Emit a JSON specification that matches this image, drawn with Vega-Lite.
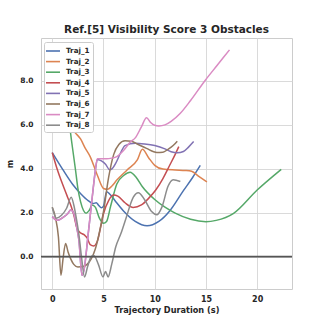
{
  "$schema": "https://vega.github.io/schema/vega-lite/v6.json",
  "width": 251,
  "height": 251,
  "autosize": "none",
  "padding": {"left": 41, "top": 38, "right": 33, "bottom": 36},
  "background": "white",
  "title": {"text": "Ref.[5] Visibility Score 3 Obstacles", "font": "DejaVu Sans", "fontSize": 10.5, "fontWeight": "bold", "color": "#262626", "offset": 3, "anchor": "middle"},
  "config": {
    "view": {"stroke": "#cccccc", "strokeWidth": 1},
    "axis": {"labelFont": "DejaVu Sans", "labelFontWeight": "bold", "labelColor": "#262626", "titleFont": "DejaVu Sans", "titleFontWeight": "bold", "titleColor": "#262626", "gridColor": "#d6d6d6", "gridWidth": 0.9, "ticks": false, "domain": false}
  },
  "layer": [
    {
      "data": {"values": [
        {"traj":"Traj_1","t":0,"m":4.73},{"traj":"Traj_1","t":1,"m":3.98},{"traj":"Traj_1","t":2,"m":3.28},{"traj":"Traj_1","t":2.8,"m":2.85},{"traj":"Traj_1","t":3.5,"m":2.55},{"traj":"Traj_1","t":4.0,"m":2.42},{"traj":"Traj_1","t":4.3,"m":2.45},{"traj":"Traj_1","t":4.5,"m":2.35},{"traj":"Traj_1","t":4.8,"m":2.22},{"traj":"Traj_1","t":5.0,"m":2.3},{"traj":"Traj_1","t":5.3,"m":2.95},{"traj":"Traj_1","t":5.6,"m":2.85},{"traj":"Traj_1","t":6.2,"m":2.5},{"traj":"Traj_1","t":7.0,"m":2.05},{"traj":"Traj_1","t":8.1,"m":1.6},{"traj":"Traj_1","t":9.25,"m":1.4},{"traj":"Traj_1","t":10.4,"m":1.6},{"traj":"Traj_1","t":11.5,"m":2.1},{"traj":"Traj_1","t":12.8,"m":3.0},{"traj":"Traj_1","t":13.7,"m":3.6},{"traj":"Traj_1","t":14.45,"m":4.15},
        {"traj":"Traj_2","t":0,"m":7.2},{"traj":"Traj_2","t":0.8,"m":6.6},{"traj":"Traj_2","t":1.6,"m":6.0},{"traj":"Traj_2","t":2.2,"m":5.65},{"traj":"Traj_2","t":2.76,"m":5.35},{"traj":"Traj_2","t":3.2,"m":4.95},{"traj":"Traj_2","t":3.7,"m":4.55},{"traj":"Traj_2","t":4.4,"m":3.7},{"traj":"Traj_2","t":5.0,"m":3.1},{"traj":"Traj_2","t":5.4,"m":3.06},{"traj":"Traj_2","t":5.8,"m":3.2},{"traj":"Traj_2","t":6.3,"m":3.48},{"traj":"Traj_2","t":7.3,"m":3.94},{"traj":"Traj_2","t":8.3,"m":4.4},{"traj":"Traj_2","t":8.8,"m":4.88},{"traj":"Traj_2","t":9.4,"m":4.5},{"traj":"Traj_2","t":10.0,"m":4.15},{"traj":"Traj_2","t":10.8,"m":3.98},{"traj":"Traj_2","t":12.0,"m":3.94},{"traj":"Traj_2","t":13.0,"m":3.92},{"traj":"Traj_2","t":13.6,"m":3.88},{"traj":"Traj_2","t":14.3,"m":3.65},{"traj":"Traj_2","t":15.1,"m":3.4},
        {"traj":"Traj_3","t":0,"m":9.3},{"traj":"Traj_3","t":0.6,"m":8.4},{"traj":"Traj_3","t":1.2,"m":7.2},{"traj":"Traj_3","t":1.62,"m":6.2},{"traj":"Traj_3","t":1.9,"m":5.2},{"traj":"Traj_3","t":2.27,"m":3.94},{"traj":"Traj_3","t":2.5,"m":3.1},{"traj":"Traj_3","t":2.76,"m":2.5},{"traj":"Traj_3","t":3.05,"m":2.1},{"traj":"Traj_3","t":3.3,"m":1.97},{"traj":"Traj_3","t":3.6,"m":2.1},{"traj":"Traj_3","t":3.9,"m":2.35},{"traj":"Traj_3","t":4.2,"m":2.25},{"traj":"Traj_3","t":4.6,"m":1.75},{"traj":"Traj_3","t":5.0,"m":1.52},{"traj":"Traj_3","t":5.3,"m":1.6},{"traj":"Traj_3","t":5.7,"m":2.3},{"traj":"Traj_3","t":6.3,"m":3.3},{"traj":"Traj_3","t":7.0,"m":3.7},{"traj":"Traj_3","t":7.6,"m":3.84},{"traj":"Traj_3","t":8.2,"m":3.6},{"traj":"Traj_3","t":8.8,"m":3.18},{"traj":"Traj_3","t":10.0,"m":2.6},{"traj":"Traj_3","t":11.0,"m":2.25},{"traj":"Traj_3","t":12.0,"m":1.98},{"traj":"Traj_3","t":13.5,"m":1.7},{"traj":"Traj_3","t":15.0,"m":1.59},{"traj":"Traj_3","t":16.0,"m":1.65},{"traj":"Traj_3","t":17.7,"m":1.97},{"traj":"Traj_3","t":20.0,"m":3.03},{"traj":"Traj_3","t":22.35,"m":3.97},
        {"traj":"Traj_4","t":0,"m":4.73},{"traj":"Traj_4","t":0.5,"m":3.95},{"traj":"Traj_4","t":1.0,"m":3.3},{"traj":"Traj_4","t":1.5,"m":2.7},{"traj":"Traj_4","t":1.8,"m":2.35},{"traj":"Traj_4","t":2.1,"m":1.9},{"traj":"Traj_4","t":2.4,"m":1.3},{"traj":"Traj_4","t":2.7,"m":1.1},{"traj":"Traj_4","t":3.1,"m":1.0},{"traj":"Traj_4","t":3.4,"m":0.85},{"traj":"Traj_4","t":3.7,"m":0.55},{"traj":"Traj_4","t":4.05,"m":0.49},{"traj":"Traj_4","t":4.4,"m":0.7},{"traj":"Traj_4","t":4.7,"m":1.3},{"traj":"Traj_4","t":5.0,"m":1.95},{"traj":"Traj_4","t":5.5,"m":2.55},{"traj":"Traj_4","t":6.0,"m":2.8},{"traj":"Traj_4","t":6.4,"m":2.75},{"traj":"Traj_4","t":7.1,"m":2.45},{"traj":"Traj_4","t":7.9,"m":2.24},{"traj":"Traj_4","t":8.7,"m":2.35},{"traj":"Traj_4","t":9.4,"m":2.65},{"traj":"Traj_4","t":10.1,"m":3.03},{"traj":"Traj_4","t":10.8,"m":3.55},{"traj":"Traj_4","t":11.4,"m":4.1},{"traj":"Traj_4","t":12.0,"m":4.65},{"traj":"Traj_4","t":12.35,"m":5.0},
        {"traj":"Traj_5","t":0,"m":1.82},{"traj":"Traj_5","t":0.5,"m":1.65},{"traj":"Traj_5","t":1.1,"m":1.8},{"traj":"Traj_5","t":1.5,"m":1.95},{"traj":"Traj_5","t":1.8,"m":2.12},{"traj":"Traj_5","t":2.1,"m":1.97},{"traj":"Traj_5","t":2.4,"m":1.3},{"traj":"Traj_5","t":2.6,"m":0.75},{"traj":"Traj_5","t":2.9,"m":-0.85},{"traj":"Traj_5","t":3.1,"m":-0.6},{"traj":"Traj_5","t":3.5,"m":1.0},{"traj":"Traj_5","t":3.9,"m":2.7},{"traj":"Traj_5","t":4.2,"m":3.9},{"traj":"Traj_5","t":4.4,"m":4.42},{"traj":"Traj_5","t":4.8,"m":4.35},{"traj":"Traj_5","t":5.2,"m":4.2},{"traj":"Traj_5","t":5.6,"m":3.95},{"traj":"Traj_5","t":5.85,"m":4.0},{"traj":"Traj_5","t":6.2,"m":4.25},{"traj":"Traj_5","t":6.65,"m":4.7},{"traj":"Traj_5","t":7.1,"m":5.05},{"traj":"Traj_5","t":8.1,"m":5.15},{"traj":"Traj_5","t":9.0,"m":5.12},{"traj":"Traj_5","t":10.0,"m":5.05},{"traj":"Traj_5","t":11.0,"m":4.9},{"traj":"Traj_5","t":11.6,"m":4.77},{"traj":"Traj_5","t":12.2,"m":4.72},{"traj":"Traj_5","t":12.8,"m":4.78},{"traj":"Traj_5","t":13.3,"m":4.98},{"traj":"Traj_5","t":13.8,"m":5.23},
        {"traj":"Traj_6","t":0,"m":2.25},{"traj":"Traj_6","t":0.3,"m":1.8},{"traj":"Traj_6","t":0.6,"m":0.9},{"traj":"Traj_6","t":0.85,"m":-0.85},{"traj":"Traj_6","t":1.05,"m":-0.1},{"traj":"Traj_6","t":1.3,"m":0.6},{"traj":"Traj_6","t":1.55,"m":0.2},{"traj":"Traj_6","t":1.8,"m":-0.1},{"traj":"Traj_6","t":2.1,"m":-0.35},{"traj":"Traj_6","t":2.5,"m":-0.47},{"traj":"Traj_6","t":3.0,"m":-0.45},{"traj":"Traj_6","t":3.4,"m":-0.35},{"traj":"Traj_6","t":3.8,"m":-0.1},{"traj":"Traj_6","t":4.2,"m":0.35},{"traj":"Traj_6","t":4.6,"m":1.1},{"traj":"Traj_6","t":5.0,"m":2.05},{"traj":"Traj_6","t":5.5,"m":3.6},{"traj":"Traj_6","t":6.0,"m":4.65},{"traj":"Traj_6","t":6.5,"m":5.1},{"traj":"Traj_6","t":7.1,"m":5.27},{"traj":"Traj_6","t":7.7,"m":5.25},{"traj":"Traj_6","t":8.3,"m":5.12},{"traj":"Traj_6","t":9.2,"m":4.92},{"traj":"Traj_6","t":10.2,"m":4.74},{"traj":"Traj_6","t":10.8,"m":4.75},{"traj":"Traj_6","t":11.3,"m":4.88},{"traj":"Traj_6","t":11.8,"m":5.05},{"traj":"Traj_6","t":12.2,"m":5.25},
        {"traj":"Traj_7","t":0,"m":1.82},{"traj":"Traj_7","t":0.5,"m":1.65},{"traj":"Traj_7","t":1.1,"m":1.8},{"traj":"Traj_7","t":1.5,"m":1.95},{"traj":"Traj_7","t":1.8,"m":2.12},{"traj":"Traj_7","t":2.1,"m":1.97},{"traj":"Traj_7","t":2.4,"m":1.3},{"traj":"Traj_7","t":2.6,"m":0.75},{"traj":"Traj_7","t":2.9,"m":-0.85},{"traj":"Traj_7","t":3.1,"m":-0.6},{"traj":"Traj_7","t":3.5,"m":1.0},{"traj":"Traj_7","t":3.9,"m":2.7},{"traj":"Traj_7","t":4.2,"m":3.9},{"traj":"Traj_7","t":4.4,"m":4.45},{"traj":"Traj_7","t":4.8,"m":4.45},{"traj":"Traj_7","t":5.3,"m":4.45},{"traj":"Traj_7","t":5.8,"m":4.48},{"traj":"Traj_7","t":6.3,"m":4.55},{"traj":"Traj_7","t":7.0,"m":4.85},{"traj":"Traj_7","t":7.6,"m":5.2},{"traj":"Traj_7","t":8.1,"m":5.4},{"traj":"Traj_7","t":8.7,"m":5.9},{"traj":"Traj_7","t":9.2,"m":6.32},{"traj":"Traj_7","t":9.6,"m":6.1},{"traj":"Traj_7","t":10.0,"m":5.97},{"traj":"Traj_7","t":10.4,"m":5.94},{"traj":"Traj_7","t":11.0,"m":5.99},{"traj":"Traj_7","t":11.6,"m":6.15},{"traj":"Traj_7","t":12.5,"m":6.52},{"traj":"Traj_7","t":13.5,"m":7.1},{"traj":"Traj_7","t":14.9,"m":8.0},{"traj":"Traj_7","t":16.1,"m":8.7},{"traj":"Traj_7","t":17.3,"m":9.4},
        {"traj":"Traj_8","t":0,"m":2.24},{"traj":"Traj_8","t":0.4,"m":1.75},{"traj":"Traj_8","t":0.9,"m":1.88},{"traj":"Traj_8","t":1.4,"m":2.2},{"traj":"Traj_8","t":1.85,"m":2.7},{"traj":"Traj_8","t":2.1,"m":2.35},{"traj":"Traj_8","t":2.4,"m":1.6},{"traj":"Traj_8","t":2.6,"m":1.0},{"traj":"Traj_8","t":2.85,"m":0.0},{"traj":"Traj_8","t":3.15,"m":-0.92},{"traj":"Traj_8","t":3.45,"m":-0.45},{"traj":"Traj_8","t":3.8,"m":0.0},{"traj":"Traj_8","t":4.05,"m":0.05},{"traj":"Traj_8","t":4.5,"m":-0.35},{"traj":"Traj_8","t":4.95,"m":-0.92},{"traj":"Traj_8","t":5.2,"m":-0.68},{"traj":"Traj_8","t":5.45,"m":-0.92},{"traj":"Traj_8","t":5.8,"m":-0.35},{"traj":"Traj_8","t":6.2,"m":0.45},{"traj":"Traj_8","t":6.7,"m":1.05},{"traj":"Traj_8","t":7.2,"m":1.75},{"traj":"Traj_8","t":7.9,"m":2.7},{"traj":"Traj_8","t":8.4,"m":2.91},{"traj":"Traj_8","t":9.0,"m":2.6},{"traj":"Traj_8","t":9.7,"m":2.05},{"traj":"Traj_8","t":10.2,"m":1.9},{"traj":"Traj_8","t":10.7,"m":2.25},{"traj":"Traj_8","t":11.3,"m":3.2},{"traj":"Traj_8","t":11.8,"m":3.5},{"traj":"Traj_8","t":12.5,"m":3.42}
      ]},
      "mark": {"type": "line", "interpolate": "monotone", "strokeWidth": 1.5, "clip": true},
      "encoding": {
        "x": {"field": "t", "type": "quantitative", "scale": {"domain": [-1.1, 23.4], "nice": false, "zero": false},
          "axis": {"values": [0, 5, 10, 15, 20], "format": "d", "title": "Trajectory Duration (s)", "labelFontSize": 8, "titleFontSize": 8.2, "labelPadding": 6, "titlePadding": 3}},
        "y": {"field": "m", "type": "quantitative", "scale": {"domain": [-1.47, 9.94], "nice": false, "zero": false},
          "axis": {"values": [0, 2, 4, 6, 8], "format": ".1f", "title": "m", "labelFontSize": 7.5, "titleFontSize": 8, "labelPadding": 8, "titlePadding": 5}},
        "color": {"field": "traj", "type": "nominal",
          "scale": {"domain": ["Traj_1","Traj_2","Traj_3","Traj_4","Traj_5","Traj_6","Traj_7","Traj_8"], "range": ["#4c72b0","#dd8452","#55a868","#c44e52","#8172b3","#937860","#da8bc3","#8c8c8c"]},
          "legend": {"title": null, "orient": "none", "legendX": 3, "legendY": 4, "symbolType": "M-1.4,0H1.4", "symbolSize": 100, "symbolStrokeWidth": 1.6, "symbolFillColor": "transparent", "labelFont": "DejaVu Sans", "labelFontWeight": "bold", "labelFontSize": 7.2, "labelColor": "#262626", "rowPadding": 0.6, "padding": 3, "fillColor": "white", "strokeColor": "#cccccc", "cornerRadius": 2, "labelOffset": 7}}
      }
    },
    {
      "data": {"values": [{"y": 0}]},
      "mark": {"type": "rule", "color": "#555555", "strokeWidth": 1.8},
      "encoding": {"y": {"field": "y", "type": "quantitative"}}
    }
  ]
}
